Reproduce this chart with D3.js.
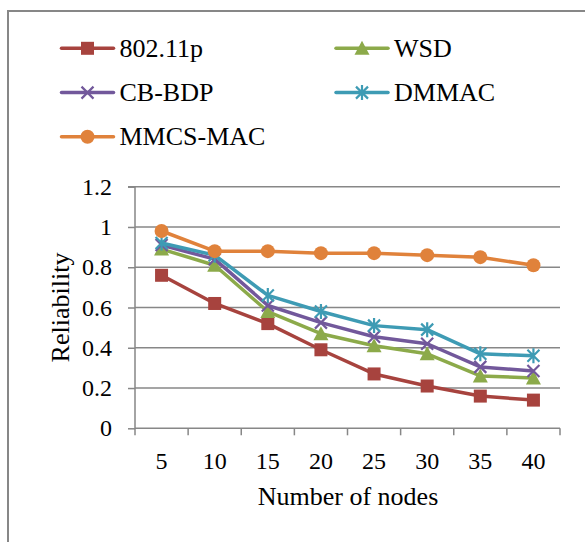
<!DOCTYPE html>
<html>
<head>
<meta charset="utf-8">
<script src="https://cdn.jsdelivr.net/npm/d3@7"></script>
<style>
  html, body { margin: 0; padding: 0; background: #fff; }
  svg { display: block; }
  svg text { font-family: "Liberation Serif", "Times New Roman", "DejaVu Serif", serif; fill: #000; }
</style>
</head>
<body>
<svg id="chart" width="585" height="542"></svg>
<script>
// Number of nodes on the x axis
const categories = ["5", "10", "15", "20", "25", "30", "35", "40"];

// Reliability per protocol
const series80211p = [0.76, 0.62, 0.52, 0.39, 0.27, 0.21, 0.16, 0.14];
const seriesWSD    = [0.89, 0.81, 0.58, 0.47, 0.41, 0.37, 0.26, 0.25];
const seriesCBBDP  = [0.91, 0.84, 0.61, 0.525, 0.455, 0.42, 0.305, 0.285];
const seriesDMMAC  = [0.92, 0.86, 0.66, 0.58, 0.51, 0.49, 0.37, 0.36];
const seriesMMCS   = [0.98, 0.88, 0.88, 0.87, 0.87, 0.86, 0.85, 0.81];

const seriesNames = ["802.11p", "WSD", "CB-BDP", "DMMAC", "MMCS-MAC"];
const yTicks = [0, 0.2, 0.4, 0.6, 0.8, 1, 1.2];

const series = [
  { name: seriesNames[0], values: series80211p, color: "#A7433E", marker: "square" },
  { name: seriesNames[1], values: seriesWSD,    color: "#8CAA4A", marker: "triangle" },
  { name: seriesNames[2], values: seriesCBBDP,  color: "#72589B", marker: "x" },
  { name: seriesNames[3], values: seriesDMMAC,  color: "#3E9BB4", marker: "star" },
  { name: seriesNames[4], values: seriesMMCS,   color: "#E0823B", marker: "circle" }
];

const svg = d3.select("#chart");
const grey = "#878787";
const serif = "Liberation Serif, Times New Roman, DejaVu Serif, serif";

// outer chart frame (runs off the right and bottom edges)
svg.append("rect")
  .attr("x", 8).attr("y", 11)
  .attr("width", 620).attr("height", 600)
  .attr("fill", "none").attr("stroke", grey).attr("stroke-width", 2);

const plot = { left: 135, right: 560, top: 186.7, bottom: 428.3 };

const x = d3.scaleBand().domain(categories).range([plot.left, plot.right]);
const y = d3.scaleLinear().domain([0, 1.2]).range([plot.bottom, plot.top]);

// horizontal gridlines
svg.append("g")
  .selectAll("line")
  .data(yTicks.filter(d => d > 0))
  .join("line")
  .attr("x1", plot.left).attr("x2", plot.right)
  .attr("y1", d => y(d)).attr("y2", d => y(d))
  .attr("stroke", grey).attr("stroke-width", 1.5);

// y axis
const yAxis = svg.append("g")
  .attr("transform", `translate(${plot.left},0)`)
  .call(d3.axisLeft(y).tickValues(yTicks).tickSize(7).tickPadding(16)
    .tickFormat(d => d3.format("")(+d.toFixed(1))));
yAxis.attr("font-family", serif);
yAxis.select(".domain").attr("stroke", grey).attr("stroke-width", 1.5).attr("d", `M-7,${plot.top}H0V${plot.bottom}`);
yAxis.selectAll(".tick line").attr("stroke", grey).attr("stroke-width", 1.5);
yAxis.selectAll("text").attr("font-size", 24).attr("fill", "#000").attr("font-family", serif);

// x axis: ticks sit on band boundaries
const xAxis = svg.append("g")
  .attr("transform", `translate(0,${plot.bottom})`);
xAxis.append("line")
  .attr("x1", plot.left).attr("x2", plot.right)
  .attr("stroke", grey).attr("stroke-width", 1.5);
const bounds = categories.map(c => x(c)).concat([x(categories[categories.length - 1]) + x.bandwidth()]);
xAxis.selectAll("line.tk")
  .data(bounds)
  .join("line").attr("class", "tk")
  .attr("x1", d => d).attr("x2", d => d)
  .attr("y1", 0).attr("y2", 7)
  .attr("stroke", grey).attr("stroke-width", 1.5);
xAxis.selectAll("text")
  .data(categories)
  .join("text")
  .attr("x", d => x(d) + x.bandwidth() / 2)
  .attr("y", 41)
  .attr("text-anchor", "middle")
  .attr("font-size", 24)
  .attr("font-family", serif)
  .text(d => d);

// axis titles
svg.append("text")
  .attr("x", (plot.left + plot.right) / 2 + 0.5)
  .attr("y", 505)
  .attr("text-anchor", "middle")
  .attr("font-size", 26)
  .attr("font-family", serif)
  .text("Number of nodes");

svg.append("text")
  .attr("transform", "translate(69,307.5) rotate(-90)")
  .attr("text-anchor", "middle")
  .attr("font-size", 26)
  .attr("font-family", serif)
  .text("Reliability");

// marker shapes
function drawMarker(g, type, color) {
  if (type === "square") {
    g.append("rect").attr("x", -6.5).attr("y", -6.5).attr("width", 13).attr("height", 13).attr("fill", color);
  } else if (type === "triangle") {
    g.append("path").attr("d", "M0,-7.5L7.5,6.5L-7.5,6.5Z").attr("fill", color);
  } else if (type === "circle") {
    g.append("circle").attr("r", 7).attr("fill", color);
  } else if (type === "x") {
    g.append("path").attr("d", "M-6,-6L6,6M-6,6L6,-6")
      .attr("stroke", color).attr("stroke-width", 2.2).attr("fill", "none");
  } else if (type === "star") {
    g.append("path").attr("d", "M-6,-6L6,6M-6,6L6,-6M0,-7.5V7.5")
      .attr("stroke", color).attr("stroke-width", 2.2).attr("fill", "none");
  }
}

const line = d3.line()
  .x((d, i) => x(categories[i]) + x.bandwidth() / 2)
  .y(d => y(d));

series.forEach(s => {
  const g = svg.append("g");
  g.append("path")
    .attr("d", line(s.values))
    .attr("fill", "none")
    .attr("stroke", s.color)
    .attr("stroke-width", 3.5)
    .attr("stroke-linejoin", "round");
  s.values.forEach((v, i) => {
    const m = g.append("g")
      .attr("transform", `translate(${x(categories[i]) + x.bandwidth() / 2},${y(v)})`);
    drawMarker(m, s.marker, s.color);
  });
});

// legend: two columns, three rows
const legendPos = [
  [61.5, 48.3], [336, 48.3],
  [61.5, 92.6], [336, 92.6],
  [61.5, 136.8]
];
series.forEach((s, i) => {
  const [lx, ly] = legendPos[i];
  const g = svg.append("g").attr("transform", `translate(${lx},${ly})`);
  g.append("line").attr("x1", 0).attr("x2", 52).attr("y1", 0).attr("y2", 0)
    .attr("stroke", s.color).attr("stroke-width", 3.5).attr("stroke-linecap", "round");
  const m = g.append("g").attr("transform", "translate(26,0)");
  drawMarker(m, s.marker, s.color);
  g.append("text")
    .attr("x", 58).attr("y", 8.5)
    .attr("font-size", 26)
    .attr("font-family", serif)
    .text(s.name);
});
</script>
</body>
</html>
